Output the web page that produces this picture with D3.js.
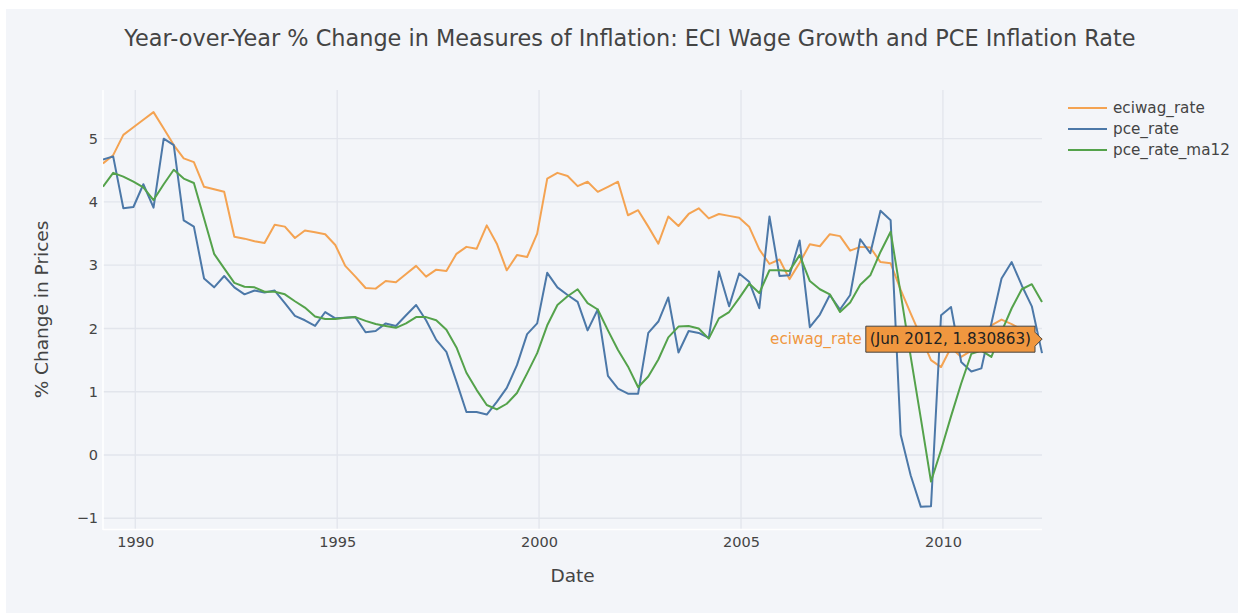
<!DOCTYPE html>
<html>
<head>
  <meta charset="utf-8">
  <title>ECI wage growth and PCE inflation</title>
  <style>
    body { margin: 0; background: #ffffff; }
    svg { display: block; font-family: "DejaVu Sans", Verdana, sans-serif; }
  </style>
</head>
<body>
  <svg width="1238" height="613"></svg>
  <script src="https://d3js.org/d3.v7.min.js"></script>
  <script>
  // quarterly observations, Mar 1989 .. Jun 2012
  var firstYear = 1989, firstMonth = 2;

  var eciwagRate = [
    4.61, 4.74, 5.06, 5.18, 5.30, 5.42, 5.16, 4.90, 4.69, 4.63,
    4.24, 4.20, 4.16, 3.45, 3.42, 3.38, 3.35, 3.64, 3.61, 3.43,
    3.55, 3.52, 3.49, 3.32, 2.99, 2.82, 2.64, 2.63, 2.75, 2.73,
    2.86, 2.99, 2.82, 2.93, 2.91, 3.18, 3.29, 3.26, 3.63, 3.34,
    2.92, 3.16, 3.13, 3.50, 4.37, 4.46, 4.41, 4.25, 4.32, 4.16,
    4.24, 4.32, 3.79, 3.87, 3.61, 3.34, 3.77, 3.62, 3.81, 3.90,
    3.74, 3.81, 3.78, 3.75, 3.61, 3.25, 3.02, 3.09, 2.78, 3.04,
    3.33, 3.30, 3.49, 3.46, 3.23, 3.29, 3.28, 3.05, 3.03, 2.61,
    2.24, 1.87, 1.50, 1.39, 1.70, 1.55, 1.65, 1.85, 2.05, 2.14,
    2.07, 1.98, 1.90, 1.830863
  ];

  var pceRate = [
    4.67, 4.72, 3.90, 3.92, 4.28, 3.91, 5.00, 4.90, 3.71, 3.61,
    2.79, 2.65, 2.83, 2.65, 2.54, 2.60, 2.57, 2.60, 2.40, 2.20,
    2.13, 2.04, 2.26, 2.16, 2.17, 2.18, 1.94, 1.96, 2.08, 2.04,
    2.21, 2.37, 2.13, 1.82, 1.63, 1.16, 0.68, 0.68, 0.64, 0.84,
    1.06, 1.42, 1.91, 2.08, 2.88, 2.65, 2.53, 2.42, 1.97, 2.30,
    1.25, 1.05, 0.97, 0.97, 1.93, 2.11, 2.49, 1.62, 1.96, 1.93,
    1.85, 2.90, 2.35, 2.87, 2.74, 2.32, 3.77, 2.83, 2.84, 3.39,
    2.02, 2.22, 2.53, 2.30, 2.53, 3.41, 3.19, 3.86, 3.71, 0.32,
    -0.32, -0.82, -0.81, 2.21, 2.34, 1.47, 1.32, 1.37, 2.08, 2.79,
    3.05, 2.68, 2.35, 1.61
  ];

  var pceRateMa12 = [
    4.24, 4.46, 4.40, 4.32, 4.23, 4.03, 4.28, 4.51, 4.37, 4.30,
    3.74, 3.18, 2.95, 2.72, 2.66, 2.65, 2.58, 2.58, 2.54, 2.43,
    2.33, 2.19, 2.15, 2.15, 2.17, 2.18, 2.12, 2.07, 2.04, 2.01,
    2.08, 2.18, 2.18, 2.13, 1.98, 1.70, 1.30, 1.03, 0.79, 0.72,
    0.81, 0.98, 1.29, 1.61, 2.05, 2.37, 2.51, 2.62, 2.40, 2.30,
    1.97, 1.66, 1.40, 1.07, 1.24, 1.51, 1.86, 2.03, 2.04, 2.00,
    1.84, 2.16, 2.26, 2.48, 2.71, 2.56, 2.92, 2.92, 2.91, 3.16,
    2.75, 2.62, 2.54, 2.26, 2.41, 2.69, 2.84, 3.21, 3.53, 2.55,
    1.56, 0.58, -0.42, 0.08, 0.61, 1.13, 1.60, 1.65, 1.55, 1.95,
    2.32, 2.62, 2.70, 2.42
  ];

  var seriesNames = ["eciwag_rate", "pce_rate", "pce_rate_ma12"];
  var seriesColors = ["#f4a352", "#4c78a8", "#54a24b"];
  var yTicks = [-1, 0, 1, 2, 3, 4, 5];
  var xTickYears = [1990, 1995, 2000, 2005, 2010];

  // one date per quarter (mid Mar, Jun, Sep, Dec)
  var dates = eciwagRate.map(function(d, i) { return new Date(firstYear, firstMonth + 3 * i, 15); });

  var svg = d3.select("svg");
  var W = 1238, H = 613;
  var pLeft = 103, pRight = 1042, pTop = 90, pBottom = 529;
  var bg = "#f3f5f9";
  var grid = "#e2e5ec";
  var ink = "#444444";
  var tickSize = "14.5px", legendSize = "15.2px", axisTitleSize = "18.5px";

  svg.append("rect").attr("width", W).attr("height", H).attr("fill", "#ffffff");
  svg.append("rect").attr("x", 6).attr("y", 9).attr("width", W - 6).attr("height", H - 9).attr("fill", bg);

  var x = d3.scaleTime().domain([dates[0], dates[dates.length - 1]]).range([pLeft, pRight]);
  var y = d3.scaleLinear().domain([-1.17, 5.77]).range([pBottom, pTop]);

  // grid
  svg.append("g").selectAll("line").data(yTicks).enter().append("line")
    .attr("x1", pLeft).attr("x2", pRight)
    .attr("y1", function(d) { return y(d); }).attr("y2", function(d) { return y(d); })
    .attr("stroke", grid).attr("stroke-width", 1.3);
  svg.append("g").selectAll("line").data(xTickYears).enter().append("line")
    .attr("x1", function(d) { return x(new Date(d, 0, 1)); })
    .attr("x2", function(d) { return x(new Date(d, 0, 1)); })
    .attr("y1", pTop).attr("y2", pBottom)
    .attr("stroke", grid).attr("stroke-width", 1.3);

  // white axis lines on the left and bottom
  svg.append("line").attr("x1", pLeft).attr("x2", pLeft).attr("y1", pTop).attr("y2", pBottom + 1)
    .attr("stroke", "#ffffff").attr("stroke-width", 1.5);
  svg.append("line").attr("x1", pLeft).attr("x2", pRight).attr("y1", pBottom + 0.5).attr("y2", pBottom + 0.5)
    .attr("stroke", "#ffffff").attr("stroke-width", 1.5);

  // axes (labels only)
  var yAxis = d3.axisLeft(y).tickValues(yTicks).tickSize(0).tickPadding(5)
    .tickFormat(function(d) { return d < 0 ? "\u2212" + Math.abs(d) : d; });
  var gy = svg.append("g").attr("transform", "translate(" + pLeft + ",0)").call(yAxis);
  gy.select(".domain").remove();
  gy.selectAll("text").attr("fill", ink).style("font-size", tickSize).style("font-family", "DejaVu Sans");

  var xAxis = d3.axisBottom(x).tickValues(xTickYears.map(function(d) { return new Date(d, 0, 1); }))
    .tickSize(0).tickPadding(8).tickFormat(d3.timeFormat("%Y"));
  var gx = svg.append("g").attr("transform", "translate(0," + pBottom + ")").call(xAxis);
  gx.select(".domain").remove();
  gx.selectAll("text").attr("fill", ink).style("font-size", tickSize).style("font-family", "DejaVu Sans");

  // lines
  svg.append("clipPath").attr("id", "plotclip").append("rect")
    .attr("x", pLeft).attr("y", pTop).attr("width", pRight - pLeft + 2).attr("height", pBottom - pTop);

  var allSeries = [eciwagRate, pceRate, pceRateMa12];
  var line = d3.line()
    .x(function(d, i) { return x(dates[i]); })
    .y(function(d) { return y(d); });

  svg.append("g").attr("clip-path", "url(#plotclip)")
    .selectAll("path").data(allSeries).enter().append("path")
    .attr("d", line)
    .attr("fill", "none")
    .attr("stroke", function(d, i) { return seriesColors[i]; })
    .attr("stroke-width", 2)
    .attr("stroke-linejoin", "round");

  // titles
  svg.append("text").attr("x", 630).attr("y", 46).attr("text-anchor", "middle")
    .attr("fill", ink).style("font-size", "22.4px")
    .text("Year-over-Year % Change in Measures of Inflation: ECI Wage Growth and PCE Inflation Rate");

  svg.append("text").attr("x", (pLeft + pRight) / 2).attr("y", 582).attr("text-anchor", "middle")
    .attr("fill", ink).style("font-size", axisTitleSize).text("Date");

  svg.append("text").attr("transform", "translate(48," + ((pTop + pBottom) / 2) + ") rotate(-90)")
    .attr("text-anchor", "middle").attr("fill", ink).style("font-size", axisTitleSize)
    .text("% Change in Prices");

  // legend
  var legend = svg.append("g").attr("transform", "translate(1068,108)");
  var item = legend.selectAll("g").data(seriesNames).enter().append("g")
    .attr("transform", function(d, i) { return "translate(0," + (i * 21) + ")"; });
  item.append("line").attr("x1", 0).attr("x2", 39).attr("y1", 0).attr("y2", 0)
    .attr("stroke", function(d, i) { return seriesColors[i]; }).attr("stroke-width", 2);
  item.append("text").attr("x", 45).attr("y", 0).attr("dy", "0.35em")
    .attr("fill", ink).style("font-size", legendSize).text(function(d) { return d; });

  // hover label on last eciwag point
  var li = dates.length - 1;
  var hx = x(dates[li]), hy = y(eciwagRate[li]);
  var hover = svg.append("g");
  var hoverText = hover.append("text").attr("y", hy).attr("dy", "0.35em")
    .attr("fill", "#222222").style("font-size", legendSize)
    .text("(" + d3.timeFormat("%b %Y")(dates[li]) + ", " + eciwagRate[li] + ")");
  var tw = hoverText.node().getComputedTextLength();
  var arrow = 7, padX = 4, hh = 26;
  var bx1 = hx - arrow, bx0 = bx1 - tw - 2 * padX;
  hover.insert("path", "text")
    .attr("d", "M" + hx + "," + hy + "L" + bx1 + "," + (hy - arrow) + "L" + bx1 + "," + (hy - hh / 2) +
      "L" + bx0 + "," + (hy - hh / 2) + "L" + bx0 + "," + (hy + hh / 2) + "L" + bx1 + "," + (hy + hh / 2) +
      "L" + bx1 + "," + (hy + arrow) + "Z")
    .attr("fill", "#f0973f").attr("stroke", "#444444").attr("stroke-width", 1);
  hoverText.attr("x", bx0 + padX);
  hover.append("text").attr("x", bx0 - 4).attr("y", hy).attr("dy", "0.35em")
    .attr("text-anchor", "end").attr("fill", "#f0973f").style("font-size", legendSize)
    .text(seriesNames[0]);
  </script>
</body>
</html>
